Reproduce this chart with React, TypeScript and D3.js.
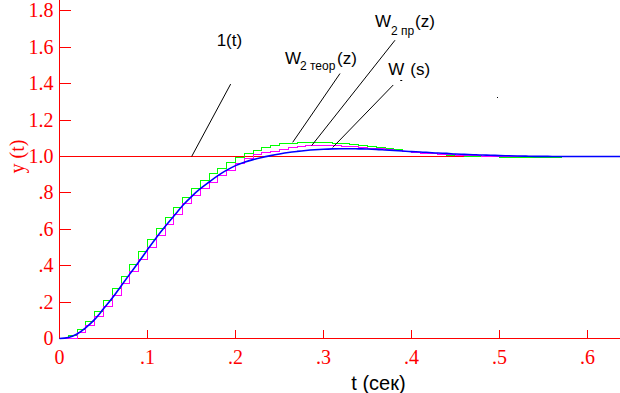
import * as d3 from "d3";

const xTickValues = [0, 0.1, 0.2, 0.3, 0.4, 0.5, 0.6];
const xTickLabels = ["0", ".1", ".2", ".3", ".4", ".5", ".6"];
const yTickValues = [0, 0.2, 0.4, 0.6, 0.8, 1.0, 1.2, 1.4, 1.6, 1.8];
const yTickLabels = ["0", ".2", ".4", ".6", ".8", "1.0", "1.2", "1.4", "1.6", "1.8"];

const sampleTime = 0.01;
const unitStep = 1;

// W(s), continuous, read every 0.01 s
const continuousResponse = [
  0, 0.006, 0.025, 0.06, 0.105, 0.163, 0.222, 0.289, 0.355, 0.42,
  0.488, 0.554, 0.615, 0.673, 0.731, 0.78, 0.823, 0.86, 0.895, 0.925,
  0.95, 0.968, 0.983, 0.995, 1.005, 1.014, 1.022, 1.028, 1.033, 1.037,
  1.04, 1.042, 1.043, 1.043, 1.042, 1.041, 1.039, 1.036, 1.033, 1.03,
  1.027, 1.025, 1.022, 1.019, 1.017, 1.014, 1.012, 1.01, 1.008, 1.007,
  1.005, 1.004, 1.003, 1.002, 1.001, 1.001, 1.0, 1.0, 1.0, 1.0,
  1.0, 1.0, 1.0, 1.0, 1.0
];

// W2 теор(z), held samples
const theoreticalResponse = [
  0, 0.016, 0.049, 0.091, 0.15, 0.208, 0.276, 0.34, 0.408, 0.477,
  0.543, 0.603, 0.664, 0.722, 0.773, 0.823, 0.867, 0.905, 0.936, 0.965,
  0.997, 1.015, 1.032, 1.05, 1.063, 1.069, 1.072, 1.075, 1.076, 1.076,
  1.075, 1.073, 1.069, 1.066, 1.06, 1.055, 1.049, 1.042, 1.036, 1.029,
  1.023, 1.018, 1.014, 1.011, 1.008, 1.005, 1.002, 1.001, 1.0, 0.999,
  0.997, 0.996, 0.995, 0.995, 0.995, 0.995, 0.995, 0.998, 0.998, 0.998,
  0.998, 0.998, 0.998, 0.998
];

// W2 пр(z), held samples
const practicalResponse = [
  0, 0, 0.031, 0.069, 0.119, 0.177, 0.234, 0.302, 0.369, 0.433,
  0.499, 0.565, 0.627, 0.682, 0.74, 0.788, 0.822, 0.858, 0.893, 0.925,
  0.962, 0.99, 1.013, 1.022, 1.03, 1.038, 1.049, 1.055, 1.058, 1.059,
  1.059, 1.058, 1.056, 1.053, 1.05, 1.046, 1.042, 1.037, 1.031, 1.025,
  1.02, 1.018, 1.015, 1.012, 1.009, 1.007, 1.005, 1.004, 1.002, 1.001,
  1.0, 0.999, 0.999, 0.998, 0.998, 0.998, 0.998, 0.998, 0.998, 0.998,
  0.998, 0.998, 0.998, 0.998
];

type Pt = [number, number];

// leader lines in (t, y) units; labels are placed in px from the upper end
const annotations = [
  { key: "step", from: [0.1945, 1.398] as Pt, to: [0.1502, 1.0] as Pt },
  { key: "theor", from: [0.3188, 1.456] as Pt, to: [0.265, 1.078] as Pt },
  { key: "pract", from: [0.3813, 1.639] as Pt, to: [0.2866, 1.06] as Pt },
  { key: "cont", from: [0.3793, 1.393] as Pt, to: [0.3105, 1.05] as Pt }
];
const strayDot: Pt = [0.4972, 1.327];

const width = 620;
const height = 393;
const serif = "Liberation Serif, Times New Roman, Times, serif";
const sans = "Liberation Sans, Arial, Helvetica, sans-serif";

const x = d3.scaleLinear().domain([0, 0.637]).range([59.5, 620]);
const y = d3.scaleLinear().domain([0, 1.86]).range([338.5, 0]);

const stepLine = d3
  .line<Pt>()
  .x((d) => x(d[0]))
  .y((d) => y(d[1]))
  .curve(d3.curveStepAfter);

const smoothLine = d3
  .line<Pt>()
  .x((d) => x(d[0]))
  .y((d) => y(d[1]))
  .curve(d3.curveMonotoneX);

function heldPoints(values: number[]): Pt[] {
  const pts: Pt[] = values.map((v, i) => [i * sampleTime, v]);
  pts.push([x.domain()[1], values[values.length - 1]]);
  return pts;
}

function Txt({
  px,
  py,
  size,
  children
}: {
  px: number;
  py: number;
  size: number;
  children: any;
}) {
  return (
    <text x={px} y={py} fill="#000" fontFamily={sans} fontSize={size}>
      {children}
    </text>
  );
}

export default function App() {
  const [x0, x1] = x.domain();
  const yTop = y.range()[1];
  const byKey = Object.fromEntries(annotations.map((a) => [a.key, a]));
  const tx = (k: string) => x(byKey[k].from[0]);
  const ty = (k: string) => y(byKey[k].from[1]);

  return (
    <div style={{ position: "absolute", left: 0, top: 0 }}>
      <svg width={width} height={height} style={{ display: "block" }}>
        <rect width={width} height={height} fill="#fff" />

        {/* axes */}
        <g stroke="#ff0000" strokeWidth={1} shapeRendering="crispEdges">
          <line x1={x(x0)} x2={x(x0)} y1={y(0)} y2={yTop} />
          <line x1={x(x0)} x2={x(x1)} y1={y(0)} y2={y(0)} />
          {yTickValues.map((v) => (
            <line key={v} x1={x(x0)} x2={x(x0) + 11} y1={y(v)} y2={y(v)} />
          ))}
          {xTickValues.slice(1).map((t) => (
            <line key={t} x1={x(t)} x2={x(t)} y1={y(0)} y2={y(0) - 9} />
          ))}
        </g>
        <g fill="#ff0000" fontFamily={serif} fontSize={20}>
          {yTickValues.map((v, i) => (
            <text key={v} x={x(x0) - 6} y={y(v) + 6.5} textAnchor="end">
              {yTickLabels[i]}
            </text>
          ))}
          {xTickValues.map((t, i) => (
            <text key={t} x={x(t)} y={y(0) + 25} textAnchor="middle">
              {xTickLabels[i]}
            </text>
          ))}
          <text
            transform={`translate(24, ${y(unitStep)}) rotate(-90)`}
            textAnchor="middle"
          >
            y (t)
          </text>
        </g>
        <text
          x={x(0.3625)}
          y={y(0) + 51}
          textAnchor="middle"
          fill="#000"
          fontFamily={sans}
          fontSize={20}
        >
          t  (сек)
        </text>

        {/* responses */}
        <line
          x1={x(x0)}
          x2={x(x1)}
          y1={y(unitStep)}
          y2={y(unitStep)}
          stroke="#ff0000"
          strokeWidth={1}
          shapeRendering="crispEdges"
        />
        <path
          d={stepLine(heldPoints(theoreticalResponse)) ?? ""}
          fill="none"
          stroke="#00ff00"
          strokeWidth={1}
          shapeRendering="crispEdges"
        />
        <path
          d={stepLine(heldPoints(practicalResponse)) ?? ""}
          fill="none"
          stroke="#ff00ff"
          strokeWidth={1}
          shapeRendering="crispEdges"
        />
        <path
          d={
            smoothLine(
              continuousResponse.map((v, i) => [i * sampleTime, v] as Pt)
            ) ?? ""
          }
          fill="none"
          stroke="#0000ff"
          strokeWidth={1.6}
        />

        {/* annotations */}
        <g stroke="#000" strokeWidth={1}>
          {annotations.map((a) => (
            <line
              key={a.key}
              x1={x(a.from[0])}
              y1={y(a.from[1])}
              x2={x(a.to[0])}
              y2={y(a.to[1])}
            />
          ))}
        </g>

        <Txt px={tx("step") - 14} py={ty("step") - 38} size={17}>
          1(t)
        </Txt>

        <Txt px={tx("theor") - 55} py={ty("theor") - 10} size={17}>
          W
        </Txt>
        <Txt px={tx("theor") - 40} py={ty("theor") - 4} size={12}>
          2  теор
        </Txt>
        <Txt px={tx("theor") - 3} py={ty("theor") - 10} size={17}>
          (z)
        </Txt>

        <Txt px={tx("pract") - 20} py={ty("pract") - 13} size={17}>
          W
        </Txt>
        <Txt px={tx("pract") - 4} py={ty("pract") - 5} size={12}>
          2 пр
        </Txt>
        <Txt px={tx("pract") + 20} py={ty("pract") - 13} size={17}>
          (z)
        </Txt>

        <Txt px={tx("cont") - 5} py={ty("cont") - 10} size={17}>
          W
        </Txt>
        <line
          x1={tx("cont") + 7}
          x2={tx("cont") + 9}
          y1={ty("cont") - 4.5}
          y2={ty("cont") - 4.5}
          stroke="#000"
        />
        <Txt px={tx("cont") + 17} py={ty("cont") - 10} size={17}>
          (s)
        </Txt>

        <rect
          x={x(strayDot[0])}
          y={y(strayDot[1])}
          width={1}
          height={1}
          fill="#000"
        />
      </svg>
    </div>
  );
}
